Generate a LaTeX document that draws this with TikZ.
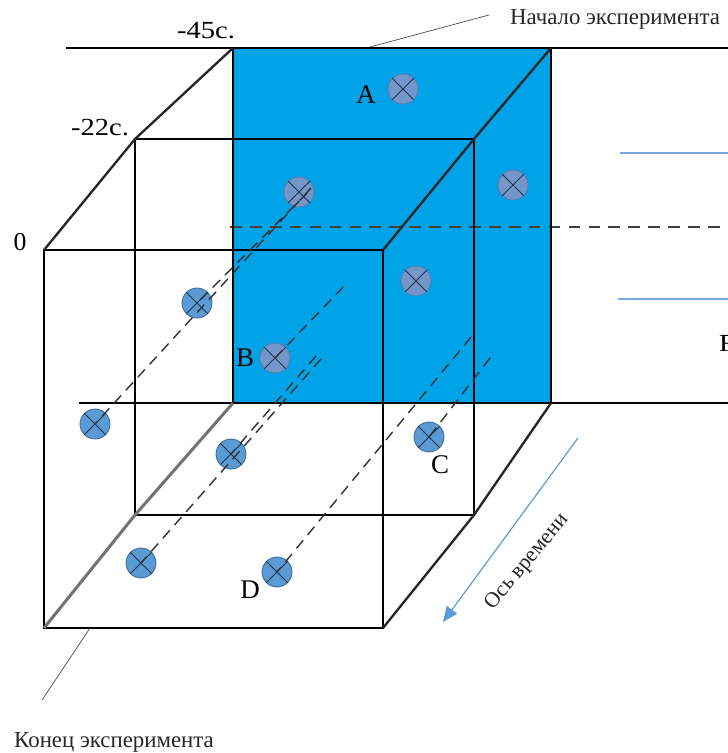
\documentclass[tikz,border=0pt]{standalone}
\usepackage{fontspec}
\setmainfont{Liberation Serif}
\newfontfamily\widefont[FakeStretch=1.16]{Liberation Serif}
\usetikzlibrary{arrows.meta}
\definecolor{cubeblue}{HTML}{00A2E8}
\definecolor{ptblue}{HTML}{5B9BD5}
\definecolor{ptedge}{HTML}{41719C}
\definecolor{ptgrey}{HTML}{7397CB}
\definecolor{ptgreyedge}{HTML}{5D7DAD}
\definecolor{axisblue}{HTML}{5B9BD5}
\definecolor{thinblue}{HTML}{7AA6DA}
\begin{document}
\begin{tikzpicture}[x=0.03cm,y=-0.03cm,
  frame/.style={line width=1.8pt, black},
  diag/.style={line width=2pt, black!85},
  softdiag/.style={line width=2.6pt, black!55},
  dashline/.style={line width=1.2pt, dash pattern=on 9pt off 6pt, black!80},
  hdash/.style={line width=1.2pt, dash pattern=on 10pt off 7pt, black!75},
  pt/.style={circle, draw=ptedge, fill=ptblue, line width=0.8pt, minimum size=25.5pt, inner sep=0pt},
  ptin/.style={pt, draw=ptgreyedge, fill=ptgrey},
  crossl/.style={line width=0.7pt, black!55!ptedge},
  lbl/.style={font=\fontsize{23}{25}\selectfont, inner sep=0pt},
  tlab/.style={font=\widefont\fontsize{21}{23}\selectfont, inner sep=0pt},
  zlab/.style={font=\fontsize{22}{24}\selectfont, inner sep=0pt},
  captxt/.style={font=\fontsize{19.5}{21}\selectfont, inner sep=0pt, text=black!85},
  axtxt/.style={font=\fontsize{18.5}{20}\selectfont, inner sep=0pt, text=black!85},
  leader/.style={line width=0.6pt, black!70},
  bluethin/.style={line width=1.2pt, thinblue},
  axisarrow/.style={line width=1pt, axisblue, -{Triangle[length=13pt,width=11pt]}}
]
\useasboundingbox (0,0) rectangle (728,753);
% corners
\coordinate (F1) at (44,250); \coordinate (F2) at (383,250);
\coordinate (F3) at (383,628); \coordinate (F4) at (44,628);
\coordinate (M1) at (135,139); \coordinate (M2) at (474,139);
\coordinate (M3) at (474,515); \coordinate (M4) at (135,515);
\coordinate (B1) at (233,48); \coordinate (B2) at (551,48);
\coordinate (B3) at (551,403); \coordinate (B4) at (233,403);
\coordinate (TL) at (66,48); \coordinate (TR) at (728,48);
\coordinate (BL) at (79,403); \coordinate (BR) at (728,403);
% blue back face
\fill[cubeblue] (B1) rectangle (B3);
% thin blue lines right
\coordinate (h1a) at (620,153); \coordinate (h1b) at (728,153);
\coordinate (h2a) at (618,299); \coordinate (h2b) at (728,299);
\draw[bluethin] (h1a) -- (h1b);
\draw[bluethin] (h2a) -- (h2b);
% horizontal dashed
\coordinate (hd1) at (230,227); \coordinate (hd2) at (728,227);
\draw[hdash] (hd1) -- (hd2);
% frames
\draw[frame] (TL) -- (TR);
\draw[frame] (BL) -- (BR);
\draw[frame] (B1) -- (B4);
\draw[frame] (B2) -- (B3);
\draw[frame] (M1) rectangle (M3);
\draw[frame] (F1) rectangle (F3);
\draw[diag] (F1) -- (M1) -- (B1);
\draw[diag] (F2) -- (M2) -- (B2);
\draw[diag] (F3) -- (M3) -- (B3);
\draw[softdiag] (F4) -- (M4) -- (B4);
% points
\node[ptin] (A) at (403,89) {};
\node[ptin] (P2) at (299,192) {};
\node[ptin] (P3) at (513,185) {};
\node[ptin] (P4) at (416,281) {};
\node[ptin] (B) at (275,358) {};
\node[pt] (Q1) at (197,303) {};
\node[pt] (Q2) at (95,424) {};
\node[pt] (Q3) at (231,454) {};
\node[pt] (C) at (429,437) {};
\node[pt] (Q5) at (141,563) {};
\node[pt] (D) at (277,572) {};
\foreach \n in {A,P2,P3,P4,B,Q1,Q2,Q3,C,Q5,D}
  \draw[crossl] (\n.45) -- (\n.225) (\n.135) -- (\n.315);
% dashed trajectories
\coordinate (d1) at (311,188); \coordinate (d2) at (307,193);
\coordinate (d3) at (348,282);
\coordinate (d4) at (316,356); \coordinate (d5) at (321,359);
\coordinate (d6) at (471,337); \coordinate (d7) at (490,358);
\draw[dashline] (d1) -- (Q2.center);
\draw[dashline] (d2) -- (Q1.center);
\draw[dashline] (B.center) -- (d3);
\draw[dashline] (d4) -- (Q3.center);
\draw[dashline] (d5) -- (Q5.center);
\draw[dashline] (d6) -- (D.center);
\draw[dashline] (d7) -- (C.center);
% labels
\node[lbl] (tA) at (366,95) {A};
\node[lbl] (tB) at (245,358) {B};
\node[lbl] (tC) at (440,465) {C};
\node[lbl] (tD) at (250,590) {D};
\node[tlab] (t45) at (206,31) {-45с.};
\node[tlab] (t22) at (100,128) {-22с.};
\node[zlab] (t0) at (20,242) {0};
\node[captxt] (tstart) at (615,19) {Начало эксперимента};
\node[captxt] (tend) at (114,742) {Конец эксперимента};
\node[tlab, anchor=west] (tF) at (719,343) {F};
% leaders
\coordinate (ls1) at (370,47); \coordinate (ls2) at (489,15);
\draw[leader] (ls1) -- (ls2);
\coordinate (le1) at (90,628); \coordinate (le2) at (42,700);
\draw[leader] (le1) -- (le2);
% time axis
\coordinate (ax1) at (578,438); \coordinate (ax2) at (443,622);
\draw[axisarrow] (ax1) -- (ax2);
\node[axtxt, rotate=50] (taxis) at (527,562) {Ось времени};
\end{tikzpicture}
\end{document}
